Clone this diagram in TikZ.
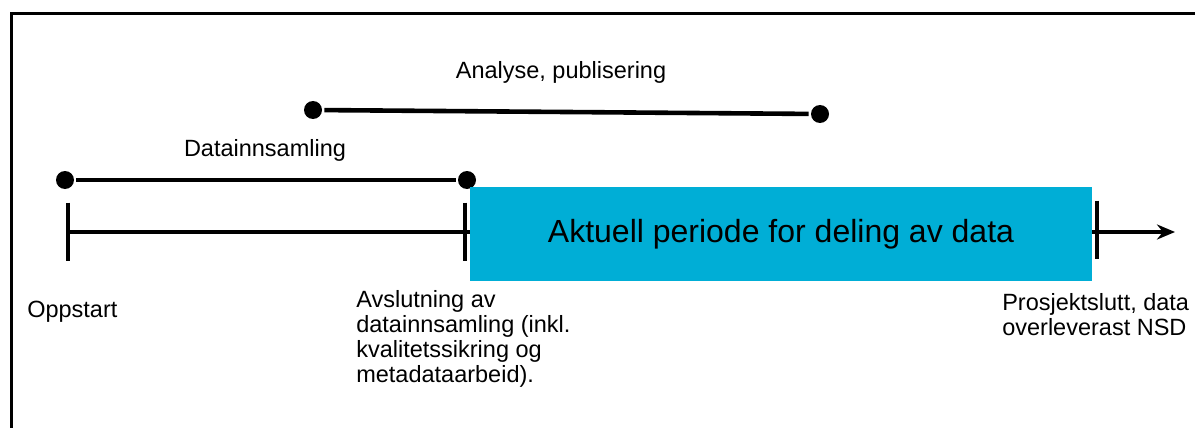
\documentclass[tikz,border=0pt]{standalone}
\usepackage{fontspec}
\setmainfont{Liberation Sans}
\usetikzlibrary{positioning,arrows.meta}
\definecolor{mBlue}{HTML}{00AED6}

\begin{document}
\begin{tikzpicture}[x=1pt, y=-1pt, font=\fontsize{23.5}{25}\selectfont, line width=4.6pt,
  dot/.style={circle, fill=black, inner sep=0pt, minimum size=18pt},
  tickmark/.style={inner sep=0pt, minimum width=0pt, minimum height=54pt},
  lbl/.style={align=left, inner sep=0pt}]
\useasboundingbox (0,0) rectangle (1195,428);
\draw[line width=3pt] (11,428) -- (11,14) -- (1195,14);
% phases
\node[dot] (D1) at (65,180) {};
\node[dot] (D2) at (467,180) {};
\node[dot] (A1) at (313,110) {};
\node[dot] (A2) at (820,114) {};
\draw (D1)--(D2); \draw (A1)--(A2);
\node[lbl] (Dlbl) at (265,150) {Datainnsamling};
\node[lbl] (Albl) at (561,72) {Analyse, publisering};
% timeline
\node[tickmark] (T1) at (68,232) {};
\node[tickmark] (T2) at (465,232) {};
\node[tickmark] (T3) at (1097,230) {};
\coordinate (end) at (1175,232);
\draw (T1.north)--(T1.south); \draw (T2.north)--(T2.south); \draw (T3.north)--(T3.south);
\draw[-{Stealth[length=18pt,width=15pt]}] (T1.center)--(end);
\node[fill=mBlue, minimum width=622pt, minimum height=94pt, font=\fontsize{32}{36}\selectfont] (period) at (781,234) {Aktuell periode for deling av data};
% milestones
\node[lbl, anchor=west] (start) at (25,312) {Oppstart};
\node[lbl, anchor=north west] (collect) at (354,288) {Avslutning av\\ datainnsamling (inkl.\\ kvalitetssikring og\\ metadataarbeid).};
\node[lbl, anchor=north west] (finish) at (1000,291) {Prosjektslutt, data\\ overleverast NSD};
\end{tikzpicture}
\end{document}
